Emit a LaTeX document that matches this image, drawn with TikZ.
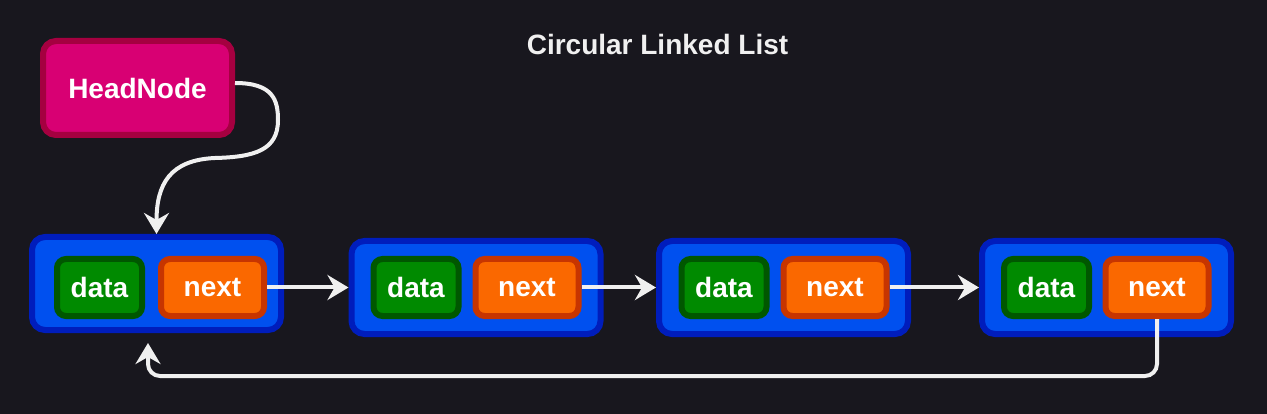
\documentclass[tikz,border=0pt]{standalone}
\usepackage{fontspec}
\setmainfont{Liberation Sans}
\usetikzlibrary{arrows.meta}
\definecolor{bgc}{HTML}{18171E}
\definecolor{bluefill}{HTML}{0050EF}
\definecolor{blueline}{HTML}{001DBC}
\definecolor{greenfill}{HTML}{008A00}
\definecolor{greenline}{HTML}{005700}
\definecolor{orangefill}{HTML}{FA6800}
\definecolor{orangeline}{HTML}{C73500}
\definecolor{pinkfill}{HTML}{D80073}
\definecolor{pinkline}{HTML}{A50040}
\definecolor{linkc}{HTML}{F0F0F0}
\tikzset{
  lbl/.style={font=\fontsize{28}{32}\selectfont\bfseries, text=white},
  listnode/.style={draw=blueline, fill=bluefill, line width=6pt, rounded corners=13pt,
    minimum width=249pt, minimum height=93pt, inner sep=0pt},
  databox/.style={lbl, draw=greenline, fill=greenfill, line width=6pt, rounded corners=9pt,
    minimum width=85pt, minimum height=57pt, inner sep=0pt},
  nextbox/.style={lbl, draw=orangeline, fill=orangefill, line width=6pt, rounded corners=9pt,
    minimum width=103pt, minimum height=57pt, inner sep=0pt},
  headbox/.style={lbl, draw=pinkline, fill=pinkfill, line width=6pt, rounded corners=13pt,
    minimum width=189pt, minimum height=94pt, inner sep=0pt},
  conn/.style={draw=linkc, line width=4pt, -{Stealth[length=21pt,width=25pt,inset=7pt]}},
}
\begin{document}
\begin{tikzpicture}[x=1pt,y=-1pt]
\fill[bgc] (0,0) rectangle (1267,414);
\useasboundingbox (0,0) rectangle (1267,414);

\node[lbl, anchor=base, text=linkc] (title) at (657.5,55) {Circular Linked List};

\node[headbox] (hn) at (137.5,88) {HeadNode};

\node[listnode] (b1) at (156.5,283.5) {};
\node[listnode] (b2) at (476,287.5) {};
\node[listnode] (b3) at (783.5,287.5) {};
\node[listnode] (b4) at (1106.5,287.5) {};

\node[databox] (d1) at (99.5,287.5) {data};
\node[nextbox] (x1) at (212.5,287.5) {next};
\node[databox] (d2) at (416,287.5) {data};
\node[nextbox] (x2) at (527,287.5) {next};
\node[databox] (d3) at (724,287.5) {data};
\node[nextbox] (x3) at (835,287.5) {next};
\node[databox] (d4) at (1046.5,287.5) {data};
\node[nextbox] (x4) at (1157,287.5) {next};

\draw[conn] (x1.east) -- (b2.west);
\draw[conn] (x2.east) -- (b3.west);
\draw[conn] (x3.east) -- (b4.west);

\draw[conn, rounded corners=12pt] (x4.south) -- ++(0,57) -| ([xshift=-8.5pt,yshift=-10pt]b1.south);

\draw[conn] ([yshift=5pt]hn.east) .. controls +(38,0) and +(0,-20) .. (278,120)
  .. controls +(0,30) and +(40,-1) .. (215,158)
  .. controls +(-45,2) and +(0,-50) .. (b1.north);
\end{tikzpicture}
\end{document}
